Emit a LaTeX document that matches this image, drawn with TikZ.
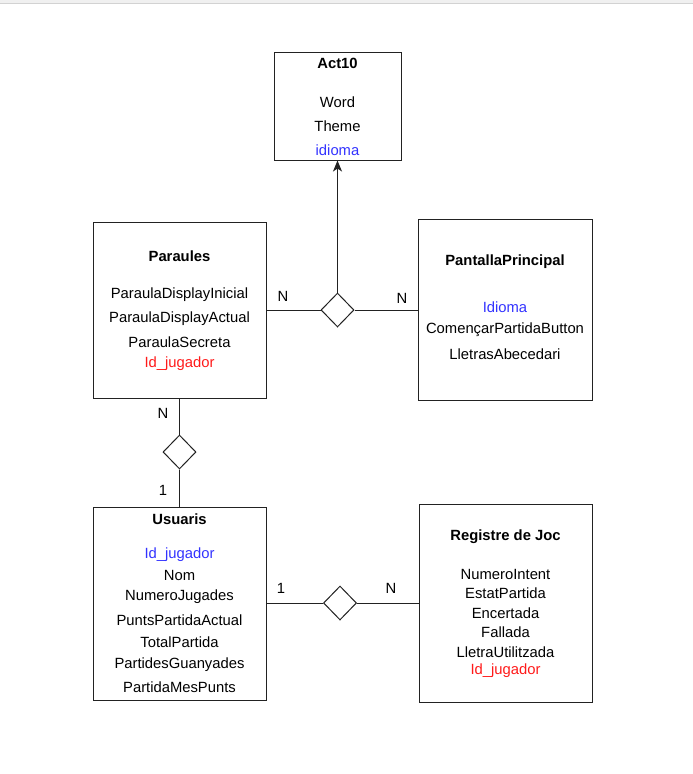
\documentclass[tikz,border=0pt]{standalone}
\usepackage{fontspec}
\setmainfont{Liberation Sans}
\usetikzlibrary{shapes.geometric,arrows.meta}
\definecolor{linec}{HTML}{222222}
\definecolor{attblue}{HTML}{3333FF}
\definecolor{attred}{HTML}{FF1A1A}
\tikzset{
  ent/.style={draw=linec, line width=1pt, fill=white, rectangle, inner sep=0pt},
  rel/.style={draw=linec, line width=1pt, fill=white, diamond, inner sep=0pt, minimum width=33pt, minimum height=34pt},
  conn/.style={draw=linec, line width=1pt},
  txt/.style={font=\fontsize{14.8}{16}\selectfont, inner sep=0pt, anchor=center},
  ttl/.style={font=\fontsize{14.8}{16}\selectfont\bfseries, inner sep=0pt, anchor=center},
  card/.style={font=\fontsize{14.8}{16}\selectfont, inner sep=0pt, anchor=center},
}
\begin{document}
\begin{tikzpicture}[x=1pt,y=-1pt]
\useasboundingbox (0,0) rectangle (693,774);
\fill[gray!12] (0,0) rectangle (693,3);
\draw[gray!35, line width=0.8pt] (0,3.4) -- (693,3.4);

% entities
\node[ent, minimum width=127pt, minimum height=108pt] (act) at (337.5,106) {};
\node[ent, minimum width=173pt, minimum height=176pt] (par) at (179.5,310) {};
\node[ent, minimum width=174pt, minimum height=181pt] (pan) at (505,309.5) {};
\node[ent, minimum width=173pt, minimum height=193pt] (usu) at (179.5,603.5) {};
\node[ent, minimum width=173pt, minimum height=198pt] (reg) at (505.5,603) {};

% relationships
\node[rel] (d1) at (337.5,310) {};
\node[rel] (d2) at (179.5,452) {};
\node[rel] (d3) at (340,603) {};

% connectors
\draw[conn] (par.east |- d1.west) -- (d1.west);
\draw[conn] (d1.east) -- (d1.east -| pan.west);
\draw[conn, -{Stealth[length=11pt,width=9pt,inset=3pt]}] (d1.north) -- (d1.north |- act.south);
\draw[conn] (d2.north |- par.south) -- (d2.north);
\draw[conn] (d2.south) -- (d2.south |- usu.north);
\draw[conn] (usu.east |- d3.west) -- (d3.west);
\draw[conn] (d3.east) -- (d3.east -| reg.west);

% cardinalities
\node[card] (c1) at (283,296) {N};
\node[card] (c2) at (402,298) {N};
\node[card] (c3) at (163,413) {N};
\node[card] (c4) at (163,490) {1};
\node[card] (c5) at (281,588) {1};
\node[card] (c6) at (391,588) {N};

% Act10
\node[ttl] (a0) at (337.5,63) {Act10};
\node[txt] (a1) at (337.5,102) {Word};
\node[txt] (a2) at (337.5,126) {Theme};
\node[txt, text=attblue] (a3) at (337.5,150) {idioma};

% Paraules
\node[ttl] (p0) at (179.5,256) {Paraules};
\node[txt] (p1) at (179.5,295) {ParaulaDisplayInicial};
\node[txt] (p2) at (179.5,319) {ParaulaDisplayActual};
\node[txt] (p3) at (179.5,342) {ParaulaSecreta};
\node[txt, text=attred] (p4) at (179.5,364) {Id\_jugador};

% PantallaPrincipal
\node[ttl] (q0) at (505,262) {PantallaPrincipal};
\node[txt, text=attblue] (q1) at (505,307) {Idioma};
\node[txt] (q2) at (505,330) {ComençarPartidaButton};
\node[txt] (q3) at (505,354) {LletrasAbecedari};

% Usuaris
\node[ttl] (u0) at (179.5,519) {Usuaris};
\node[txt, text=attblue] (u1) at (179.5,555) {Id\_jugador};
\node[txt] (u2) at (179.5,575) {Nom};
\node[txt] (u3) at (179.5,597) {NumeroJugades};
\node[txt] (u4) at (179.5,620) {PuntsPartidaActual};
\node[txt] (u5) at (179.5,642) {TotalPartida};
\node[txt] (u6) at (179.5,665) {PartidesGuanyades};
\node[txt] (u7) at (179.5,687) {PartidaMesPunts};

% Registre de Joc
\node[ttl] (r0) at (505.5,537) {Registre de Joc};
\node[txt] (r1) at (505.5,574) {NumeroIntent};
\node[txt] (r2) at (505.5,593) {EstatPartida};
\node[txt] (r3) at (505.5,613) {Encertada};
\node[txt] (r4) at (505.5,632) {Fallada};
\node[txt] (r5) at (505.5,652) {LletraUtilitzada};
\node[txt, text=attred] (r6) at (505.5,671) {Id\_jugador};
\end{tikzpicture}
\end{document}
